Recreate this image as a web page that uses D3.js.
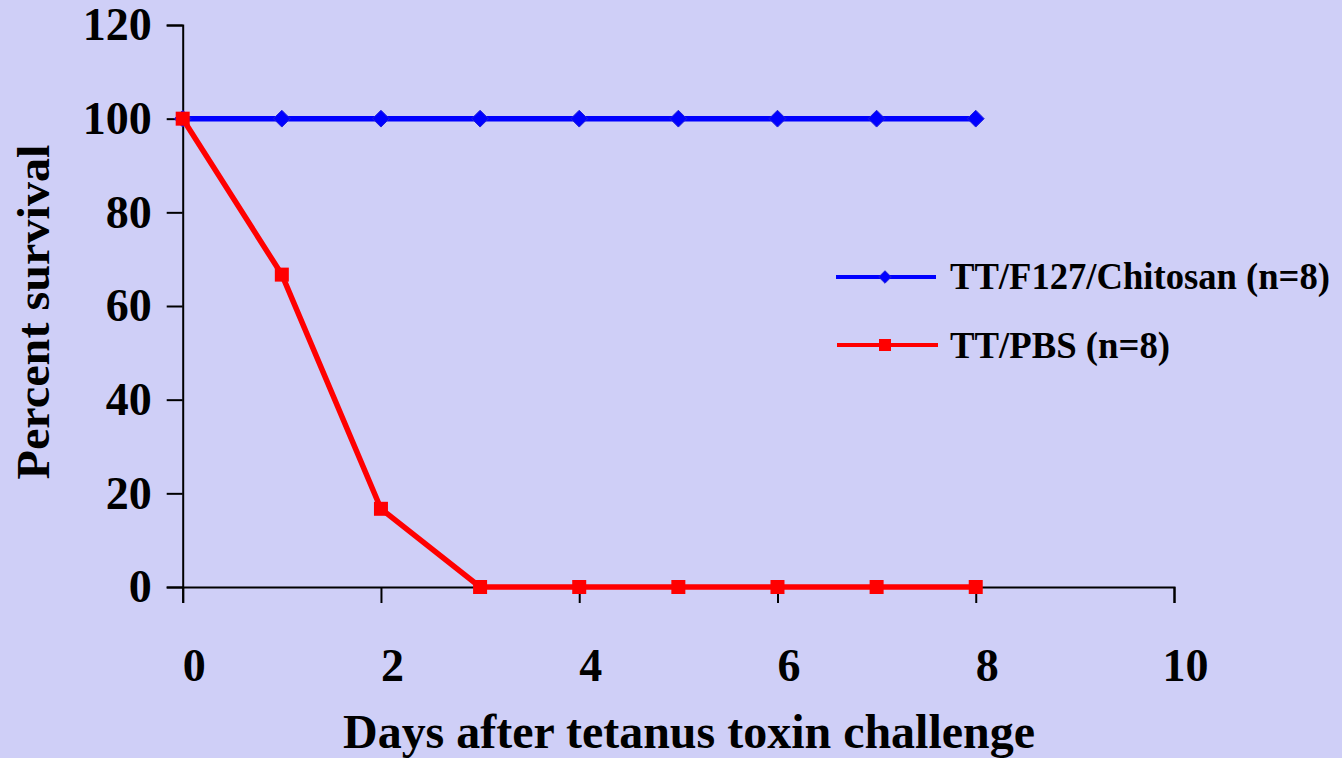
<!DOCTYPE html>
<html>
<head>
<meta charset="utf-8">
<script src="https://cdn.jsdelivr.net/npm/d3@7"></script>
<style>
  html, body { margin: 0; padding: 0; background: #cfcff7; }
  svg { display: block; }
  text { font-family: "Liberation Serif", "Times New Roman", serif; font-weight: bold; fill: #000; }
</style>
</head>
<body>
<svg></svg>
<script>
// survival data
var days = [0, 1, 2, 3, 4, 5, 6, 7, 8];
var chitosan = [100, 100, 100, 100, 100, 100, 100, 100, 100];
var pbs = [100, 66.7, 16.7, 0, 0, 0, 0, 0, 0];
var seriesNames = ["TT/F127/Chitosan (n=8)", "TT/PBS (n=8)"];
var xTicks = [0, 2, 4, 6, 8, 10];
var yTicks = [0, 20, 40, 60, 80, 100, 120];

var width = 1342, height = 758;

var svg = d3.select("svg")
    .attr("width", width)
    .attr("height", height);

var x = d3.scaleLinear()
    .domain([0, 10])
    .range([182.7, 1174]);

var y = d3.scaleLinear()
    .domain([0, 120])
    .range([587, 25]);

var xAxis = d3.axisBottom(x)
    .tickValues(xTicks)
    .tickSize(16)
    .tickSizeOuter(16)
    .tickPadding(45)
    .tickFormat(d3.format("d"));

var yAxis = d3.axisLeft(y)
    .tickValues(yTicks)
    .tickSize(16)
    .tickSizeOuter(16)
    .tickPadding(15)
    .tickFormat(d3.format("d"));

var gX = svg.append("g")
    .attr("transform", "translate(0," + y(0) + ")")
    .call(xAxis);

var gY = svg.append("g")
    .attr("transform", "translate(" + x(0) + ",0)")
    .call(yAxis);

svg.selectAll(".domain, .tick line")
    .attr("stroke", "#000")
    .attr("stroke-width", 2);

gX.selectAll("text")
    .attr("dx", 11)
    .style("font-size", "46px");

gY.selectAll("text")
    .style("font-size", "46px");

svg.append("text")
    .attr("x", 689)
    .attr("y", 748)
    .attr("text-anchor", "middle")
    .attr("textLength", 692)
    .attr("lengthAdjust", "spacingAndGlyphs")
    .style("font-size", "48px")
    .text("Days after tetanus toxin challenge");

svg.append("text")
    .attr("transform", "translate(49,312) rotate(-90)")
    .attr("text-anchor", "middle")
    .attr("textLength", 335)
    .attr("lengthAdjust", "spacingAndGlyphs")
    .style("font-size", "46px")
    .text("Percent survival");

var line = d3.line()
    .x(function(d) { return x(d[0]); })
    .y(function(d) { return y(d[1]); });

var blueData = d3.zip(days, chitosan);
var redData = d3.zip(days, pbs);

var diamond = d3.symbol().type(d3.symbolDiamond2).size(180);
var diamondSmall = d3.symbol().type(d3.symbolDiamond2).size(100);

// blue series
svg.append("path")
    .datum(blueData)
    .attr("fill", "none")
    .attr("stroke", "#0000ff")
    .attr("stroke-width", 5.5)
    .attr("d", line);

svg.selectAll(".blue-pt")
    .data(blueData)
    .enter().append("path")
    .attr("class", "blue-pt")
    .attr("transform", function(d) { return "translate(" + x(d[0]) + "," + y(d[1]) + ")"; })
    .attr("d", diamond)
    .attr("fill", "#0000ff")
    .attr("stroke", "#2020dd")
    .attr("stroke-width", 1);

// red series
svg.append("path")
    .datum(redData)
    .attr("fill", "none")
    .attr("stroke", "#ff0000")
    .attr("stroke-width", 5.5)
    .attr("d", line);

svg.selectAll(".red-pt")
    .data(redData)
    .enter().append("rect")
    .attr("class", "red-pt")
    .attr("x", function(d) { return x(d[0]) - 7; })
    .attr("y", function(d) { return y(d[1]) - 7; })
    .attr("width", 14)
    .attr("height", 14)
    .attr("fill", "#ff0000");

// legend
var legend = svg.append("g");

var leg1 = legend.append("g").attr("transform", "translate(836,277)");
leg1.append("line").attr("x1", 0).attr("x2", 100).attr("stroke", "#0000ff").attr("stroke-width", 4);
leg1.append("path").attr("transform", "translate(49,0)").attr("d", diamondSmall)
    .attr("fill", "#0000ff").attr("stroke", "#2020dd");
leg1.append("text").attr("x", 114).attr("y", 12)
    .attr("textLength", 380).attr("lengthAdjust", "spacingAndGlyphs")
    .style("font-size", "37.5px").text(seriesNames[0]);

var leg2 = legend.append("g").attr("transform", "translate(837,345)");
leg2.append("line").attr("x1", 0).attr("x2", 101).attr("stroke", "#ff0000").attr("stroke-width", 4);
leg2.append("rect").attr("x", 42).attr("y", -6).attr("width", 12).attr("height", 12).attr("fill", "#ff0000");
leg2.append("text").attr("x", 113).attr("y", 13)
    .attr("textLength", 220).attr("lengthAdjust", "spacingAndGlyphs")
    .style("font-size", "37.5px").text(seriesNames[1]);
</script>
</body>
</html>
